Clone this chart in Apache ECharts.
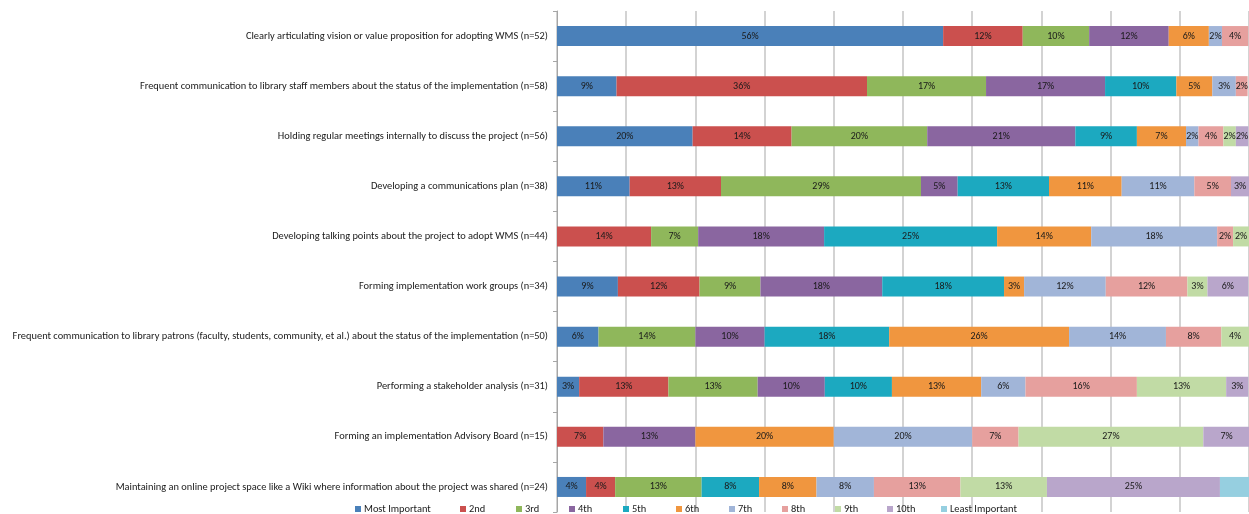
<!DOCTYPE html>
<html>
<head>
<meta charset="utf-8">
<script src="https://cdn.jsdelivr.net/npm/echarts@6/dist/echarts.min.js"></script>
<style>
html,body{margin:0;padding:0;background:#fff;}
#chart{width:1249px;height:514px;}
</style>
</head>
<body>
<div id="chart"></div>
<script>
var categories = [
  "Clearly articulating vision or value proposition for adopting WMS (n=52)",
  "Frequent communication to library staff members about the status of the implementation (n=58)",
  "Holding regular meetings internally to discuss the project (n=56)",
  "Developing a communications plan (n=38)",
  "Developing talking points about the project to adopt WMS (n=44)",
  "Forming implementation work groups (n=34)",
  "Frequent communication to library patrons (faculty, students, community, et al.) about the status of the implementation (n=50)",
  "Performing a stakeholder analysis (n=31)",
  "Forming an implementation Advisory Board (n=15)",
  "Maintaining an online project space like a Wiki where information about the project was shared (n=24)"
];
var seriesNames = ["Most Important","2nd","3rd","4th","5th","6th","7th","8th","9th","10th","Least Important"];
var mostImportant = [55.8, 8.6, 19.6, 10.5, null, 8.8, 6, 3.2, null, 4.2];
var second        = [11.5, 36.2, 14.3, 13.2, 13.6, 11.8, null, 12.9, 6.7, 4.2];
var third         = [9.6, 17.2, 19.6, 28.9, 6.8, 8.8, 14, 12.9, null, 12.5];
var fourth        = [11.5, 17.2, 21.4, 5.3, 18.2, 17.6, 10, 9.7, 13.3, null];
var fifth         = [null, 10.3, 8.9, 13.2, 25.0, 17.6, 18, 9.7, null, 8.3];
var sixth         = [5.8, 5.2, 7.1, 10.5, 13.6, 2.9, 26, 12.9, 20, 8.3];
var seventh       = [1.9, 3.4, 1.8, 10.5, 18.2, 11.8, 14, 6.4, 20, 8.3];
var eighth        = [3.8, 1.7, 3.6, 5.3, 2.3, 11.8, 8, 16.1, 6.7, 12.5];
var ninth         = [null, null, 1.8, null, 2.3, 2.9, 4, 12.9, 26.7, 12.5];
var tenth         = [null, null, 1.8, 2.6, null, 5.9, null, 3.2, 6.7, 25];
var leastImportant= [null, null, null, null, null, null, null, null, null, 4.2];
var seriesValues = [mostImportant, second, third, fourth, fifth, sixth, seventh, eighth, ninth, tenth, leastImportant];
var colors = ["#4A80B9","#CB504E","#8FB75B","#8A66A0","#1CA9C0","#F0963F","#A1B5D8","#E6A09E","#C1DBA5","#B9A6CB","#96CFE0"];
var showLabels = [true,true,true,true,true,true,true,true,true,true,false];
var legendLeft = [355, 460, 516, 569, 623, 676, 729, 782, 835, 887, 941];

var FONT = "Carlito, 'Liberation Sans Narrow', 'Liberation Sans', sans-serif";
var chart = echarts.init(document.getElementById('chart'), null, {renderer:'canvas'});

var series = seriesNames.map(function(name, i){
  return {
    name: name,
    type: 'bar',
    stack: 'total',
    barWidth: 20,
    clip: false,
    data: seriesValues[i],
    itemStyle: {color: colors[i]},
    label: {
      show: showLabels[i],
      position: 'inside',
      color: '#1a1a1a',
      fontFamily: FONT,
      fontSize: 10,
      formatter: function(p){ return p.value == null ? '' : Math.round(p.value) + '%'; }
    },
    emphasis: {disabled: true}
  };
});

var legends = seriesNames.map(function(name, i){
  return {
    data: [name],
    left: legendLeft[i], top: 504,
    itemWidth: 6, itemHeight: 6, itemGap: 0,
    icon: 'rect', padding: 0,
    selectedMode: false,
    textStyle: {color: '#1a1a1a', fontFamily: FONT, fontSize: 10.4, padding: [0,0,0,-2]}
  };
});

chart.setOption({
  animation: false,
  backgroundColor: '#ffffff',
  grid: {left: 557, top: 11, width: 692, height: 501, containLabel: false},
  xAxis: {
    type: 'value', min: 0, max: 100, interval: 10,
    axisLabel: {show: false},
    axisLine: {show: false},
    axisTick: {show: false},
    splitLine: {show: true, lineStyle: {color: '#c4c4c4', width: 1.5}}
  },
  yAxis: {
    type: 'category', data: categories, inverse: true,
    axisLine: {show: true, lineStyle: {color: '#a6a6a6', width: 1}},
    axisTick: {show: true, length: 4, lineStyle: {color: '#a6a6a6'}},
    axisLabel: {color: '#1a1a1a', fontFamily: FONT, fontSize: 10.4, margin: 9}
  },
  legend: legends,
  series: series
});
</script>
</body>
</html>
